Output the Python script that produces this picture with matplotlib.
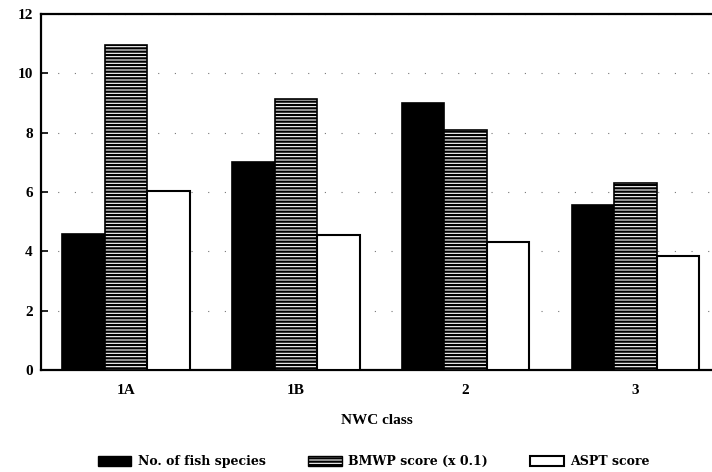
import matplotlib
matplotlib.use("Agg")
import matplotlib.pyplot as plt
import numpy as np
from matplotlib.patches import Patch

categories = ["1A", "1B", "2", "3"]
fish_species = [4.6, 7.0, 9.0, 5.55]
bmwp_scaled = [10.95, 9.15, 8.1, 6.3]
aspt_score = [6.05, 4.55, 4.3, 3.85]
series_labels = ["No. of fish species", "BMWP score (x 0.1)", "ASPT score"]
yticks = [0, 2, 4, 6, 8, 10, 12]

plt.rcParams['font.family'] = ['Liberation Serif', 'DejaVu Serif']
plt.rcParams['hatch.linewidth'] = 1.6

fig = plt.figure(figsize=(7.12, 4.72), dpi=100)
ax = fig.add_axes([41/712, 1-370/472, 1-41/712, (370-14)/472])

x = np.arange(len(categories))
w = 0.25
ax.bar(x - w, fish_species, w, color='black', edgecolor='black', linewidth=1.2, zorder=3)
ax.bar(x, bmwp_scaled, w, color='white', edgecolor='black', hatch='-----', linewidth=1.2, zorder=3)
ax.bar(x + w, aspt_score, w, color='white', edgecolor='black', linewidth=1.5, zorder=3)

ax.set_xlim(-0.5, 3.45)
ax.set_ylim(0, 12)
ax.set_yticks(yticks)
ax.set_yticklabels([str(t) for t in yticks], fontsize=11, fontweight='bold')
ax.set_xticks(x)
ax.set_xticklabels(categories, fontsize=11, fontweight='bold')
ax.tick_params(axis='y', direction='in', length=5, width=1.2, pad=6)
ax.tick_params(axis='x', length=0, pad=10)
ax.yaxis.grid(True, linestyle=(0, (1, 14)), color='#777777', linewidth=0.8, zorder=0)
ax.set_axisbelow(True)

for s in ['left', 'bottom', 'top']:
    ax.spines[s].set_linewidth(1.6)
ax.spines['right'].set_visible(False)

ax.set_xlabel("NWC class", fontsize=11, fontweight='bold', labelpad=12)

handles = [
    Patch(facecolor='black', edgecolor='black', label=series_labels[0]),
    Patch(facecolor='white', edgecolor='black', hatch='-----', label=series_labels[1]),
    Patch(facecolor='white', edgecolor='black', linewidth=1.5, label=series_labels[2]),
]
fig.legend(handles=handles, loc='center', bbox_to_anchor=(0.525, 0.022), ncol=3,
           frameon=False, prop={'family': 'DejaVu Serif', 'size': 9, 'weight': 'bold'},
           handlelength=2.7, handleheight=0.9, columnspacing=3.4, handletextpad=0.5)

fig.savefig("out.png", dpi=100)
